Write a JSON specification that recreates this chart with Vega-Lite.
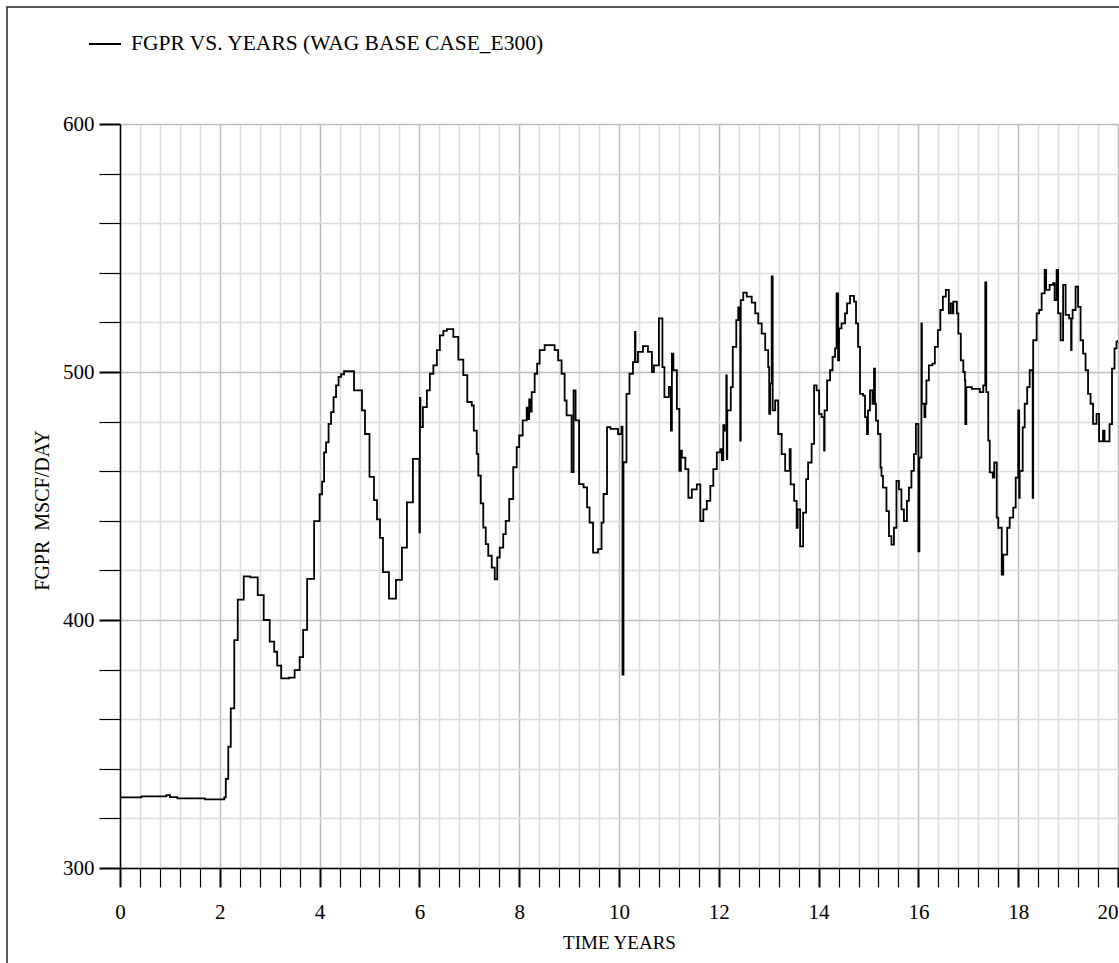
{
  "$schema": "https://vega.github.io/schema/vega-lite/v6.json",
  "autosize": {"type": "none"},
  "width": 998,
  "height": 744,
  "padding": {"left": 120, "top": 124, "right": 1, "bottom": 95},
  "background": "white",
  "config": {"view": {"stroke": null}, "font": "Liberation Serif"},
  "layer": [
    {
      "data": {"values": [
        {"t":0,"v":328.5},{"t":0.43,"v":328.9},{"t":0.93,"v":329.4},{"t":1.0,"v":328.6},{"t":1.15,"v":328.1},{"t":1.7,"v":327.7},{"t":2.09,"v":328.5},{"t":2.12,"v":335.9},{"t":2.17,"v":348.9},{"t":2.22,"v":364.4},{"t":2.29,"v":391.9},{"t":2.36,"v":408.2},{"t":2.48,"v":417.6},{"t":2.61,"v":417.2},{"t":2.76,"v":410},{"t":2.88,"v":400},{"t":3.0,"v":391.3},{"t":3.09,"v":387.2},{"t":3.15,"v":381.6},{"t":3.23,"v":376.5},{"t":3.39,"v":376.8},{"t":3.5,"v":379.8},{"t":3.6,"v":385},{"t":3.67,"v":396},{"t":3.75,"v":416.6},{"t":3.89,"v":439.9},{"t":4.0,"v":450.7},{"t":4.05,"v":455.8},{"t":4.09,"v":467.6},{"t":4.13,"v":471.6},{"t":4.18,"v":479.1},{"t":4.23,"v":483.8},{"t":4.28,"v":489.9},{"t":4.33,"v":494.6},{"t":4.38,"v":498},{"t":4.43,"v":499.1},{"t":4.49,"v":500.3},{"t":4.69,"v":492.6},{"t":4.85,"v":484.5},{"t":4.91,"v":475},{"t":5.0,"v":457.7},{"t":5.09,"v":448.3},{"t":5.15,"v":440.6},{"t":5.21,"v":433.1},{"t":5.27,"v":419.3},{"t":5.39,"v":408.6},{"t":5.53,"v":416.2},{"t":5.65,"v":429.2},{"t":5.75,"v":447.4},{"t":5.87,"v":465},{"t":6.0,"v":435.3},{"t":6.01,"v":489.6},{"t":6.02,"v":477.8},{"t":6.07,"v":485.8},{"t":6.15,"v":492.6},{"t":6.21,"v":499.3},{"t":6.28,"v":502.7},{"t":6.35,"v":508.8},{"t":6.41,"v":514.8},{"t":6.48,"v":516.6},{"t":6.55,"v":517.3},{"t":6.68,"v":514.2},{"t":6.78,"v":505},{"t":6.88,"v":498.7},{"t":6.96,"v":487.9},{"t":7.05,"v":486.5},{"t":7.09,"v":476.4},{"t":7.15,"v":467},{"t":7.18,"v":458.2},{"t":7.23,"v":447},{"t":7.28,"v":437.3},{"t":7.33,"v":430.6},{"t":7.38,"v":425.9},{"t":7.45,"v":421.1},{"t":7.51,"v":416.4},{"t":7.56,"v":425.2},{"t":7.61,"v":429.2},{"t":7.68,"v":434.6},{"t":7.73,"v":440},{"t":7.8,"v":448.8},{"t":7.88,"v":461.6},{"t":7.95,"v":469.7},{"t":8.0,"v":474.4},{"t":8.07,"v":480.5},{"t":8.15,"v":485.6},{"t":8.18,"v":481},{"t":8.2,"v":489},{"t":8.22,"v":484},{"t":8.25,"v":491.9},{"t":8.31,"v":499.3},{"t":8.36,"v":503.4},{"t":8.41,"v":508.8},{"t":8.51,"v":510.8},{"t":8.71,"v":508.8},{"t":8.78,"v":504.7},{"t":8.85,"v":499.3},{"t":8.91,"v":488.5},{"t":8.95,"v":482.5},{"t":9.05,"v":459.6},{"t":9.09,"v":492.6},{"t":9.13,"v":480.5},{"t":9.2,"v":454.8},{"t":9.29,"v":453.5},{"t":9.36,"v":445.4},{"t":9.41,"v":439.3},{"t":9.48,"v":427.2},{"t":9.58,"v":428.6},{"t":9.65,"v":439.3},{"t":9.69,"v":450.8},{"t":9.76,"v":477.8},{"t":9.83,"v":477.1},{"t":9.98,"v":475},{"t":10.05,"v":478},{"t":10.07,"v":378},{"t":10.09,"v":463.6},{"t":10.15,"v":491.2},{"t":10.21,"v":499.3},{"t":10.28,"v":504},{"t":10.32,"v":516.2},{"t":10.33,"v":504},{"t":10.38,"v":508.1},{"t":10.48,"v":510.4},{"t":10.58,"v":508.1},{"t":10.66,"v":500},{"t":10.7,"v":502.7},{"t":10.8,"v":521.6},{"t":10.87,"v":502},{"t":10.91,"v":489.9},{"t":11.0,"v":494},{"t":11.04,"v":476.4},{"t":11.06,"v":507.4},{"t":11.09,"v":500.7},{"t":11.16,"v":485.1},{"t":11.21,"v":460.1},{"t":11.24,"v":468.3},{"t":11.26,"v":465.5},{"t":11.33,"v":460.8},{"t":11.39,"v":449.3},{"t":11.46,"v":452.7},{"t":11.56,"v":454.7},{"t":11.63,"v":439.9},{"t":11.69,"v":444.6},{"t":11.76,"v":448},{"t":11.83,"v":454.1},{"t":11.89,"v":460.8},{"t":11.96,"v":467.6},{"t":12.03,"v":468.9},{"t":12.06,"v":464.5},{"t":12.09,"v":478.6},{"t":12.11,"v":476.4},{"t":12.15,"v":498.6},{"t":12.16,"v":464.9},{"t":12.17,"v":484.5},{"t":12.24,"v":493.9},{"t":12.28,"v":510.1},{"t":12.35,"v":520.9},{"t":12.39,"v":526},{"t":12.41,"v":520.9},{"t":12.43,"v":472.3},{"t":12.44,"v":529},{"t":12.49,"v":532},{"t":12.56,"v":530.4},{"t":12.66,"v":528},{"t":12.73,"v":523.6},{"t":12.79,"v":519.6},{"t":12.86,"v":515.5},{"t":12.93,"v":508.8},{"t":12.99,"v":502},{"t":13.01,"v":483.1},{"t":13.03,"v":495.3},{"t":13.06,"v":538.5},{"t":13.08,"v":484.5},{"t":13.13,"v":488.5},{"t":13.19,"v":475},{"t":13.26,"v":466.9},{"t":13.33,"v":460.1},{"t":13.42,"v":468.9},{"t":13.44,"v":454.7},{"t":13.51,"v":448},{"t":13.56,"v":437.2},{"t":13.58,"v":444.6},{"t":13.63,"v":429.7},{"t":13.69,"v":443.3},{"t":13.75,"v":456.8},{"t":13.79,"v":463.5},{"t":13.86,"v":471},{"t":13.91,"v":494.6},{"t":13.96,"v":492.6},{"t":14.01,"v":483.1},{"t":14.06,"v":481.8},{"t":14.11,"v":468.3},{"t":14.12,"v":484.5},{"t":14.17,"v":496.6},{"t":14.23,"v":500.7},{"t":14.28,"v":506.1},{"t":14.33,"v":509.5},{"t":14.36,"v":531.7},{"t":14.39,"v":504.7},{"t":14.41,"v":517.6},{"t":14.46,"v":519.6},{"t":14.53,"v":523.6},{"t":14.57,"v":527.7},{"t":14.63,"v":530.7},{"t":14.71,"v":528.4},{"t":14.75,"v":519.6},{"t":14.79,"v":510.1},{"t":14.83,"v":491.2},{"t":14.89,"v":490.5},{"t":14.93,"v":481.8},{"t":14.97,"v":475},{"t":14.99,"v":484.5},{"t":15.03,"v":492.6},{"t":15.08,"v":487.2},{"t":15.11,"v":501.4},{"t":15.13,"v":487.2},{"t":15.15,"v":480.4},{"t":15.19,"v":475},{"t":15.24,"v":461.5},{"t":15.26,"v":458.1},{"t":15.29,"v":453.4},{"t":15.36,"v":443.9},{"t":15.41,"v":433.8},{"t":15.46,"v":430.4},{"t":15.51,"v":437.2},{"t":15.56,"v":456.1},{"t":15.61,"v":452.7},{"t":15.66,"v":444.6},{"t":15.71,"v":439.9},{"t":15.77,"v":448},{"t":15.81,"v":453.4},{"t":15.86,"v":460.1},{"t":15.91,"v":466.9},{"t":15.95,"v":479.1},{"t":16.0,"v":427.7},{"t":16.02,"v":465.5},{"t":16.06,"v":519.6},{"t":16.07,"v":487.2},{"t":16.12,"v":481.8},{"t":16.14,"v":487.2},{"t":16.16,"v":496.6},{"t":16.21,"v":502.7},{"t":16.28,"v":503.4},{"t":16.33,"v":510.1},{"t":16.39,"v":516.9},{"t":16.44,"v":525},{"t":16.49,"v":530.4},{"t":16.55,"v":533.1},{"t":16.61,"v":523.6},{"t":16.65,"v":527.7},{"t":16.69,"v":523.6},{"t":16.7,"v":528.4},{"t":16.77,"v":523.6},{"t":16.8,"v":515.5},{"t":16.85,"v":504.7},{"t":16.9,"v":500},{"t":16.93,"v":496.6},{"t":16.94,"v":479},{"t":16.96,"v":493.9},{"t":17.07,"v":493.2},{"t":17.23,"v":491.9},{"t":17.3,"v":494.6},{"t":17.34,"v":536.1},{"t":17.36,"v":491.9},{"t":17.4,"v":472.3},{"t":17.43,"v":459.5},{"t":17.49,"v":457.4},{"t":17.52,"v":463.5},{"t":17.57,"v":441.3},{"t":17.6,"v":437.2},{"t":17.67,"v":418.3},{"t":17.7,"v":426.4},{"t":17.78,"v":437.2},{"t":17.83,"v":441.3},{"t":17.9,"v":445.3},{"t":17.95,"v":457.4},{"t":18.0,"v":484.5},{"t":18.02,"v":449.3},{"t":18.03,"v":460.1},{"t":18.09,"v":477.7},{"t":18.13,"v":487.2},{"t":18.18,"v":493.9},{"t":18.23,"v":500.7},{"t":18.29,"v":449.3},{"t":18.3,"v":512.8},{"t":18.37,"v":523.6},{"t":18.42,"v":525},{"t":18.47,"v":531.7},{"t":18.53,"v":541.2},{"t":18.56,"v":533.1},{"t":18.63,"v":535.1},{"t":18.7,"v":535.8},{"t":18.73,"v":529},{"t":18.77,"v":541.2},{"t":18.8,"v":523.6},{"t":18.85,"v":512.8},{"t":18.9,"v":535.1},{"t":18.95,"v":523},{"t":19.02,"v":521.6},{"t":19.06,"v":508.8},{"t":19.07,"v":521.6},{"t":19.09,"v":525},{"t":19.15,"v":534.4},{"t":19.2,"v":526.3},{"t":19.25,"v":512.8},{"t":19.3,"v":507.4},{"t":19.35,"v":500.7},{"t":19.4,"v":491.2},{"t":19.45,"v":487.2},{"t":19.5,"v":479.1},{"t":19.57,"v":483.1},{"t":19.62,"v":472},{"t":19.7,"v":476.4},{"t":19.73,"v":472},{"t":19.83,"v":479},{"t":19.88,"v":501.4},{"t":19.93,"v":509.5},{"t":19.97,"v":512.2},{"t":20.0,"v":512.5},{"t":20.05,"v":512.5}
      ]},
      "mark": {"type": "line", "interpolate": "step-after", "strokeWidth": 1.8, "clip": true},
      "encoding": {
        "x": {
          "field": "t", "type": "quantitative",
          "scale": {"domain": [0, 20], "nice": false, "zero": false},
          "axis": {
            "title": "TIME YEARS",
            "values": [0,0.4,0.8,1.2,1.6,2,2.4,2.8,3.2,3.6,4,4.4,4.8,5.2,5.6,6,6.4,6.8,7.2,7.6,8,8.4,8.8,9.2,9.6,10,10.4,10.8,11.2,11.6,12,12.4,12.8,13.2,13.6,14,14.4,14.8,15.2,15.6,16,16.4,16.8,17.2,17.6,18,18.4,18.8,19.2,19.6,20],
            "tickCount": 200,
            "tickMinStep": 0.1,
            "labelExpr": "abs(datum.value/2-round(datum.value/2))<0.001 ? format(datum.value, 'd') : ''",
            "grid": true,
            "gridColor": {"condition": {"test": "abs(datum.value/2-round(datum.value/2))<0.001", "value": "#bdbdbd"}, "value": "#dcdcdc"},
            "gridWidth": 1.5,
            "domainColor": "#000000", "domainWidth": 1.5,
            "tickColor": "#000000", "tickSize": 19,
            "tickWidth": {"condition": {"test": "abs(datum.value/2-round(datum.value/2))<0.001", "value": 2}, "value": 1.2},
            "labelFont": "Liberation Serif", "labelFontSize": 21, "labelColor": "#000000", "labelPadding": 14,
            "labelOverlap": false, "labelFlush": false,
            "labelAlign": {"condition": {"test": "datum.value >= 19.99", "value": "right"}, "value": "center"},
            "titleFont": "Liberation Serif", "titleFontSize": 19, "titleFontWeight": "normal", "titleColor": "#000000", "titlePadding": 11,
            "encode": {
              "ticks": {"update": {"y2": {"signal": "abs(datum.value/2-round(datum.value/2))<0.001 ? 19 : 10"}}}
            }
          }
        },
        "y": {
          "field": "v", "type": "quantitative",
          "scale": {"domain": [300, 600], "nice": false, "zero": false},
          "axis": {
            "title": "FGPR\u00a0\u00a0MSCF/DAY",
            "values": [300,320,340,360,380,400,420,440,460,480,500,520,540,560,580,600],
            "tickCount": 200,
            "tickMinStep": 1,
            "labelExpr": "datum.value % 100 === 0 ? format(datum.value, 'd') : ''",
            "grid": true,
            "gridColor": {"condition": {"test": "datum.value % 100 === 0", "value": "#bdbdbd"}, "value": "#dcdcdc"},
            "gridWidth": 1.5,
            "domainColor": "#000000", "domainWidth": 1.5,
            "tickColor": "#000000", "tickSize": 21,
            "tickWidth": {"condition": {"test": "datum.value % 100 === 0", "value": 2}, "value": 1.2},
            "labelFont": "Liberation Serif", "labelFontSize": 21, "labelColor": "#000000", "labelPadding": 5,
            "labelOverlap": false, "labelFlush": false,
            "titleFont": "Liberation Serif", "titleFontSize": 20, "titleFontWeight": "normal", "titleColor": "#000000", "titlePadding": 10,
            "titleY": 386,
            "encode": {"ticks": {"update": {"x2": {"signal": "datum.value % 100 === 0 ? -21 : -12"}}}}
          }
        },
        "color": {
          "datum": "FGPR VS. YEARS (WAG BASE CASE_E300)",
          "scale": {"range": ["#000000"]},
          "legend": {
            "orient": "none", "legendX": -32, "legendY": -97, "title": null,
            "symbolType": "stroke", "symbolSize": 1024, "symbolStrokeWidth": 2, "symbolStrokeColor": "#000000",
            "labelFont": "Liberation Serif", "labelFontSize": 21.5, "labelColor": "#000000", "labelOffset": 9,
            "padding": 0, "labelLimit": 1000
          }
        }
      }
    },
    {
      "data": {"values": [{"frame": 1}]},
      "mark": {"type": "rect", "fill": "transparent", "stroke": "#222222", "strokeWidth": 1.5, "clip": false},
      "encoding": {
        "x": {"datum": -2.265, "type": "quantitative"},
        "x2": {"datum": 40},
        "y": {"datum": 647.2, "type": "quantitative"},
        "y2": {"datum": 0}
      }
    }
  ]
}
